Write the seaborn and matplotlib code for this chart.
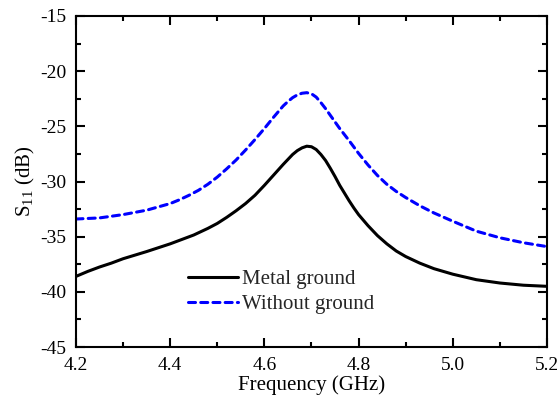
import numpy as np
import pandas as pd
import matplotlib
matplotlib.use("Agg")
import matplotlib.pyplot as plt
from matplotlib.ticker import MultipleLocator
import seaborn as sns

# Measured reflection coefficient S11 (dB) versus frequency (GHz)
freq_metal = [4.200, 4.225, 4.250, 4.275, 4.30, 4.35, 4.40, 4.45, 4.48, 4.50,
              4.52, 4.54, 4.56, 4.58, 4.60, 4.62, 4.64, 4.65, 4.66, 4.67,
              4.68, 4.69, 4.70, 4.71, 4.72, 4.73, 4.74, 4.75, 4.76, 4.77,
              4.78, 4.79, 4.80, 4.82, 4.84, 4.86, 4.88, 4.90, 4.93, 4.96,
              5.00, 5.05, 5.10, 5.15, 5.20]
s11_metal = [-38.6, -38.15, -37.75, -37.4, -37.0, -36.35, -35.65, -34.85, -34.25, -33.8,
             -33.25, -32.65, -32.0, -31.25, -30.35, -29.4, -28.45, -28.0, -27.55, -27.2,
             -26.95, -26.8, -26.85, -27.1, -27.55, -28.1, -28.8, -29.55, -30.35, -31.05,
             -31.75, -32.4, -33.0, -34.0, -34.9, -35.65, -36.3, -36.8, -37.4, -37.9,
             -38.4, -38.9, -39.2, -39.4, -39.5]

freq_free = [4.20, 4.25, 4.30, 4.35, 4.40, 4.42, 4.44, 4.46, 4.48, 4.50,
             4.52, 4.54, 4.56, 4.58, 4.60, 4.62, 4.64, 4.65, 4.66, 4.67,
             4.68, 4.69, 4.70, 4.71, 4.72, 4.73, 4.74, 4.75, 4.76, 4.78,
             4.80, 4.82, 4.84, 4.86, 4.88, 4.90, 4.93, 4.96, 5.00, 5.05,
             5.10, 5.15, 5.20]
s11_free = [-33.4, -33.3, -33.0, -32.6, -32.0, -31.65, -31.25, -30.8, -30.25, -29.6,
            -28.85, -28.05, -27.15, -26.2, -25.2, -24.15, -23.15, -22.75, -22.4, -22.15,
            -22.0, -21.95, -22.05, -22.35, -22.85, -23.4, -24.0, -24.6, -25.2, -26.3,
            -27.45, -28.5, -29.45, -30.25, -30.9, -31.45, -32.2, -32.85, -33.6, -34.5,
            -35.1, -35.55, -35.9]

x_ticks = [4.2, 4.4, 4.6, 4.8, 5.0, 5.2]
y_ticks = [-45, -40, -35, -30, -25, -20, -15]

sns.set_theme(style="ticks")
plt.rcParams["font.family"] = ["Liberation Serif", "DejaVu Serif"]
plt.rcParams["mathtext.fontset"] = "custom"
plt.rcParams["mathtext.rm"] = "Liberation Serif"
plt.rcParams["mathtext.it"] = "Liberation Serif:italic"

metal = pd.DataFrame({"f": freq_metal, "s11": s11_metal})
free = pd.DataFrame({"f": freq_free, "s11": s11_free})

fig = plt.figure(figsize=(5.57, 4.05), dpi=100)
ax = fig.add_axes([0.1364, 0.1432, 0.8456, 0.8173])

sns.lineplot(data=metal, x="f", y="s11", ax=ax, color="black", lw=2.2,
             label="Metal ground")
sns.lineplot(data=free, x="f", y="s11", ax=ax, color="#0000ff", lw=2.2,
             label="Without ground")
for ln in ax.lines:
    ln.set_solid_joinstyle("round")
    ln.set_dash_joinstyle("round")
ax.lines[1].set_dashes((2.3, 1.7))
ax.lines[1].set_dash_capstyle("round")

ax.set_xlim(4.2, 5.2)
ax.set_ylim(-45, -15)
ax.set_xticks(x_ticks)
ax.set_xticklabels([f"{v:.1f}" for v in x_ticks])
ax.set_yticks(y_ticks)
ax.set_yticklabels([f"{v}" for v in y_ticks])
ax.xaxis.set_minor_locator(MultipleLocator(0.1))
ax.yaxis.set_minor_locator(MultipleLocator(2.5))

for side in ax.spines.values():
    side.set_linewidth(1.5)
    side.set_color("black")
ax.tick_params(which="both", direction="in", top=True, right=True,
               width=1.5, color="black", labelsize=14, labelcolor="black")
ax.tick_params(which="major", length=6.7, pad=7)
ax.tick_params(which="minor", length=3.6)

ax.set_xlabel("Frequency (GHz)", fontsize=15, color="black", labelpad=1)
ax.set_ylabel(r"S$_{\mathregular{11}}$ (dB)", fontsize=15, color="black", labelpad=2)

leg = ax.legend(loc="upper left", bbox_to_anchor=(0.216, 0.265), frameon=False,
                fontsize=15, handlelength=2.4, handletextpad=0.2,
                borderpad=0, labelspacing=0.26)
for h in leg.get_lines():
    h.set_linewidth(2.2)

fig.savefig("out.png", dpi=100)
